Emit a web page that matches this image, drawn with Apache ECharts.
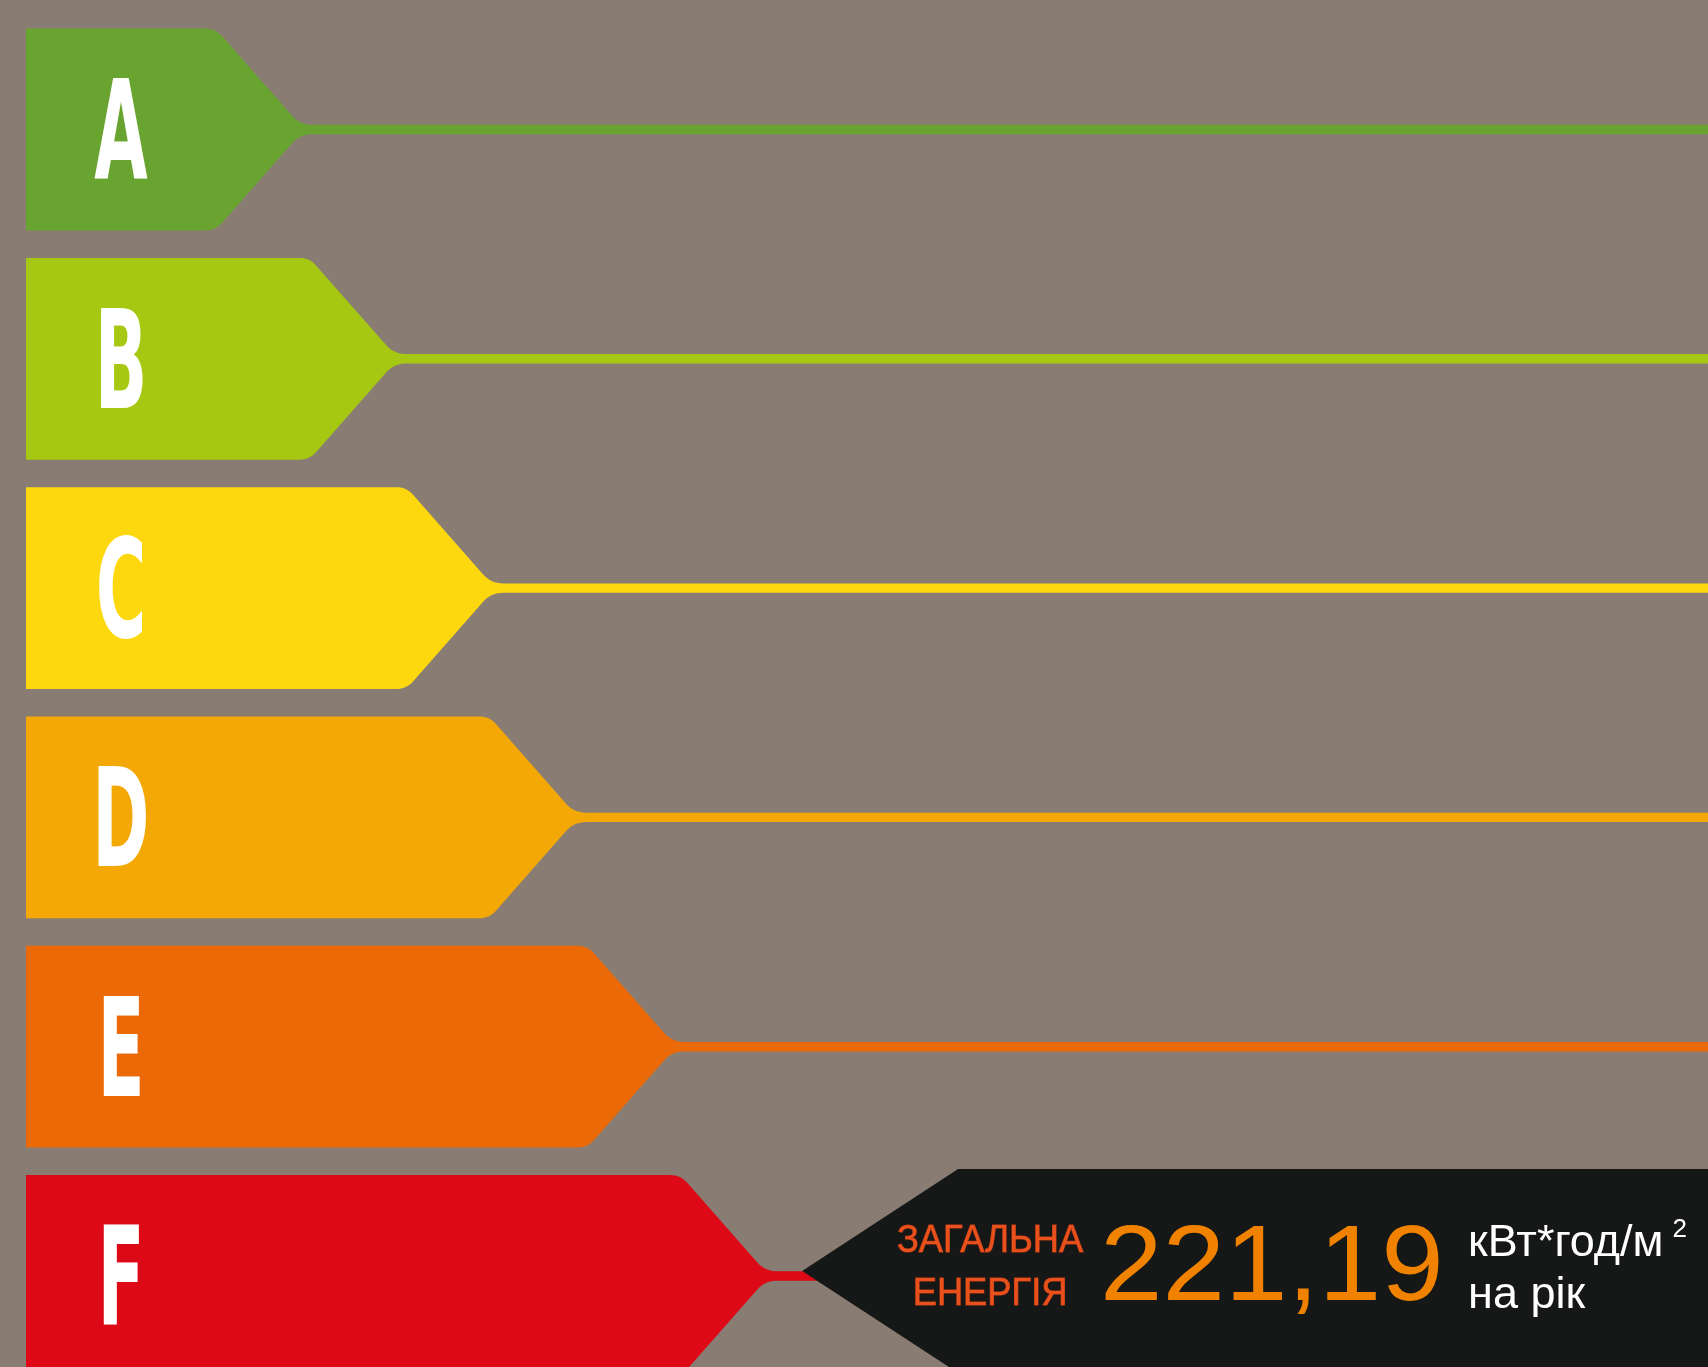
<!DOCTYPE html>
<html><head><meta charset="utf-8">
<script src="https://cdn.jsdelivr.net/npm/echarts@6/dist/echarts.min.js"></script>
<style>html,body{margin:0;padding:0;background:#897d73;}#chart{width:1708px;height:1367px;}</style>
</head><body><div id="chart"></div>
<script>
// ---- data ----
const classes = ['A', 'B', 'C', 'D', 'E', 'F'];
const arrowLengths = [16.29, 21.88, 27.65, 32.58, 38.41, 43.94]; // tip position on a 0-100 scale
const currentClass = 'F';
const totalEnergy = 221.19;
const energyLabel = ['ЗАГАЛЬНА', 'ЕНЕРГІЯ'];
const unitLabel = ['кВт*год/м', 'на рік'];
const unitSup = '2';

// ---- styles ----
const classColors = ['#6aa430', '#a6c812', '#fdd80f', '#f4a805', '#eb6907', '#dd0916'];
const bgColor = '#897d73';
const boxColor = '#161817';
const FONT = '"Liberation Sans", Arial, sans-serif';

function roundPoly(pts) {
  const out = [];
  const n = pts.length;
  for (let i = 0; i < n; i++) {
    const P = pts[i], A = pts[(i - 1 + n) % n], B = pts[(i + 1) % n];
    const r = P[2];
    if (!r) { out.push([P[0], P[1]]); continue; }
    const ax = A[0] - P[0], ay = A[1] - P[1], bx = B[0] - P[0], by = B[1] - P[1];
    const la = Math.hypot(ax, ay), lb = Math.hypot(bx, by);
    const rr = Math.min(r, la / 2, lb / 2);
    const p1 = [P[0] + ax / la * rr, P[1] + ay / la * rr];
    const p2 = [P[0] + bx / lb * rr, P[1] + by / lb * rr];
    for (let k = 0; k <= 10; k++) {
      const t = k / 10, u = 1 - t;
      out.push([u * u * p1[0] + 2 * u * t * P[0] + t * t * p2[0], u * u * p1[1] + 2 * u * t * P[1] + t * t * p2[1]]);
    }
  }
  return out;
}

const measureCtx = document.createElement('canvas').getContext('2d');
function textWidth(str, font) { measureCtx.font = font; return measureCtx.measureText(str).width; }
function midY(baseline, fs) { return baseline - 0.25 * fs; }
function txt(text, x, y, font, fill, align, extra) {
  return Object.assign({
    type: 'text', x: x, y: y,
    style: { text: text, font: font, fill: fill, align: align, textAlign: align, verticalAlign: 'middle', textVerticalAlign: 'middle' }
  }, extra || {});
}

function renderItem(params, api) {
  const len = api.value(0), ci = api.value(1);
  const tip = api.coord([len, ci]);
  const left = api.coord([0, ci])[0];
  const cs = params.coordSys;
  const right = cs.x + cs.width;
  const band = Math.abs(api.size([0, 1])[1]);
  const hh = band * 0.44;
  const tx = tip[0], cy = tip[1];
  const T = cy - hh, B = cy + hh, h = 4.7;
  const C = tx - 0.88 * (cy - h - T);
  const isCur = classes[ci] === currentClass;
  const lineEnd = isCur ? tx + 60 : right;
  const pts = roundPoly([[left, T, 0], [C, T, 10], [tx, cy - h, 12], [lineEnd, cy - h, 0],
                         [lineEnd, cy + h, 0], [tx, cy + h, 12], [C, B, 10], [left, B, 0]]);
  const children = [
    { type: 'polygon', shape: { points: pts }, style: { fill: classColors[ci] } },
    txt(classes[ci], left + 95, cy + 0.095 * 138, 'bold 138px "DejaVu Sans"', '#ffffff', 'center', { scaleX: 0.5 })
  ];
  if (isCur) {
    const bx = tx + 37, by = cy - 5;
    const top = by - 102, bot = by + 102;
    children.push({ type: 'polygon', shape: { points: [[bx, by], [bx + 156, top], [right, top], [right, bot], [bx + 156, bot]] },
                    style: { fill: boxColor } });
    const lf = 39;
    const l1 = txt(energyLabel[0], bx + 188, midY(by - 20, lf), lf + 'px ' + FONT, '#e8501c', 'center', { scaleX: 0.93 });
    const l2 = txt(energyLabel[1], bx + 188, midY(by + 33, lf), lf + 'px ' + FONT, '#e8501c', 'center', { scaleX: 0.93 });
    l1.style.stroke = l2.style.stroke = '#c03a16';
    l1.style.lineWidth = l2.style.lineWidth = 1;
    children.push(l1, l2);
    const nf = 108;
    const numStr = totalEnergy.toFixed(2).replace('.', ',');
    children.push(txt(numStr, bx + 298, midY(by + 26, nf), nf + 'px ' + FONT, '#f08200', 'left', { scaleX: 1.04 }));
    const uf = 45;
    const ufont = uf + 'px ' + FONT;
    children.push(txt(unitLabel[0], bx + 666, midY(by - 16, uf), ufont, '#ffffff', 'left'));
    children.push(txt(unitLabel[1], bx + 666, midY(by + 36, uf), ufont, '#ffffff', 'left'));
    const w = textWidth(unitLabel[0], ufont);
    children.push(txt(unitSup, bx + 666 + w + 9, midY(by - 35, 26), '26px ' + FONT, '#ffffff', 'left'));
  }
  return { type: 'group', children: children };
}

const chart = echarts.init(document.getElementById('chart'), null, { renderer: 'canvas' });
chart.setOption({
  backgroundColor: bgColor,
  animation: false,
  grid: { left: 26, right: 0, top: 14.85, bottom: 0, containLabel: false },
  xAxis: { type: 'value', min: 0, max: 100, show: false },
  yAxis: { type: 'value', inverse: true, min: -0.5, max: 5.397, show: false },
  series: [{
    type: 'custom',
    renderItem: renderItem,
    encode: { x: 0, y: 1 },
    data: classes.map((c, i) => [arrowLengths[i], i])
  }]
});
</script>
</body></html>
